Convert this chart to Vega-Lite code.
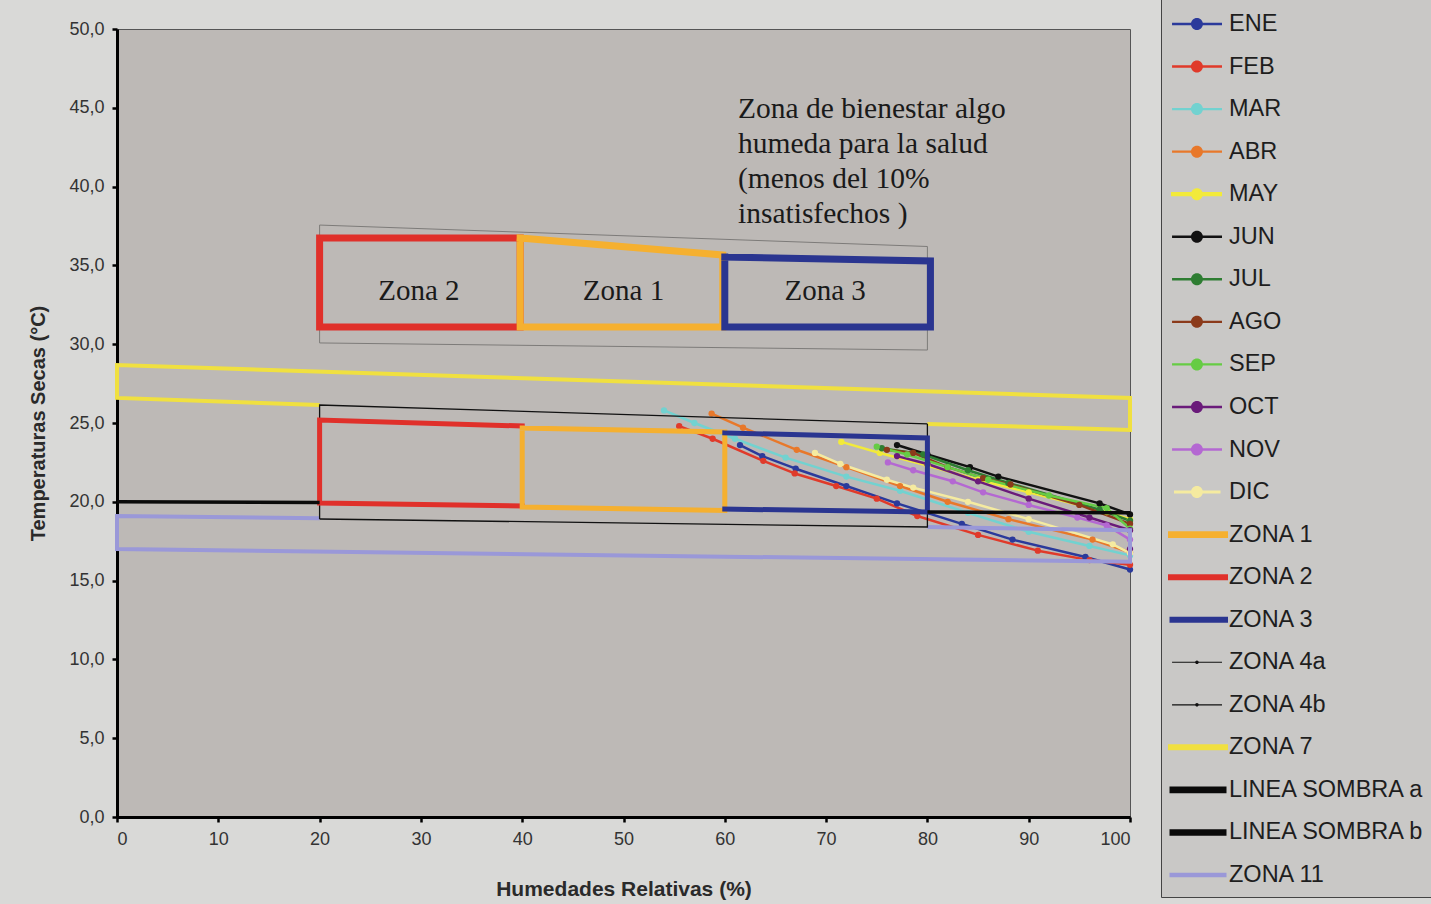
{
  "$schema": "https://vega.github.io/schema/vega-lite/v6.json",
  "width": 1013,
  "height": 788,
  "autosize": {"type": "none"},
  "padding": {"left": 117, "top": 29, "right": 301, "bottom": 87},
  "background": "#d9d9d7",
  "config": {
    "view": {"stroke": "#555555", "strokeWidth": 1, "fill": "#bdb9b6"},
    "axis": {"grid": false, "domainColor": "#000000", "domainWidth": 3, "tickColor": "#000000", "tickWidth": 2.5, "tickSize": 5, "labelColor": "#333333", "labelFont": "Liberation Sans", "labelFontSize": 18, "titleFont": "Liberation Sans", "titleFontSize": 20, "titleFontWeight": "bold", "titleColor": "#2a2a2a"}
  },
  "datasets": {
    "lineas": [
      {"k":"m","s":"ENE","g":"ENE","i":0,"x":61.5,"y":23.6},{"k":"m","s":"ENE","g":"ENE","i":1,"x":63.7,"y":22.9},{"k":"m","s":"ENE","g":"ENE","i":2,"x":67,"y":22.1},{"k":"m","s":"ENE","g":"ENE","i":3,"x":72,"y":21.0},{"k":"m","s":"ENE","g":"ENE","i":4,"x":77,"y":19.9},{"k":"m","s":"ENE","g":"ENE","i":5,"x":83.4,"y":18.6},{"k":"m","s":"ENE","g":"ENE","i":6,"x":88.4,"y":17.6},{"k":"m","s":"ENE","g":"ENE","i":7,"x":95.6,"y":16.5},{"k":"m","s":"ENE","g":"ENE","i":8,"x":100,"y":15.7},
      {"k":"m","s":"FEB","g":"FEB","i":0,"x":55.5,"y":24.8},{"k":"m","s":"FEB","g":"FEB","i":1,"x":58.8,"y":24.0},{"k":"m","s":"FEB","g":"FEB","i":2,"x":63.8,"y":22.6},{"k":"m","s":"FEB","g":"FEB","i":3,"x":66.9,"y":21.8},{"k":"m","s":"FEB","g":"FEB","i":4,"x":71,"y":21.0},{"k":"m","s":"FEB","g":"FEB","i":5,"x":75,"y":20.2},{"k":"m","s":"FEB","g":"FEB","i":6,"x":79,"y":19.1},{"k":"m","s":"FEB","g":"FEB","i":7,"x":85,"y":17.9},{"k":"m","s":"FEB","g":"FEB","i":8,"x":90.9,"y":16.9},{"k":"m","s":"FEB","g":"FEB","i":9,"x":96,"y":16.3},{"k":"m","s":"FEB","g":"FEB","i":10,"x":100,"y":16.0},
      {"k":"m","s":"MAR","g":"MAR","i":0,"x":54,"y":25.8},{"k":"m","s":"MAR","g":"MAR","i":1,"x":57,"y":25.0},{"k":"m","s":"MAR","g":"MAR","i":2,"x":61,"y":24.0},{"k":"m","s":"MAR","g":"MAR","i":3,"x":66,"y":22.8},{"k":"m","s":"MAR","g":"MAR","i":4,"x":72,"y":21.6},{"k":"m","s":"MAR","g":"MAR","i":5,"x":77.3,"y":20.7},{"k":"m","s":"MAR","g":"MAR","i":6,"x":84,"y":19.3},{"k":"m","s":"MAR","g":"MAR","i":7,"x":90,"y":18.1},{"k":"m","s":"MAR","g":"MAR","i":8,"x":96,"y":17.2},{"k":"m","s":"MAR","g":"MAR","i":9,"x":100,"y":16.6},
      {"k":"m","s":"ABR","g":"ABR","i":0,"x":58.7,"y":25.6},{"k":"m","s":"ABR","g":"ABR","i":1,"x":61.8,"y":24.7},{"k":"m","s":"ABR","g":"ABR","i":2,"x":67.1,"y":23.3},{"k":"m","s":"ABR","g":"ABR","i":3,"x":72,"y":22.2},{"k":"m","s":"ABR","g":"ABR","i":4,"x":77.3,"y":21.0},{"k":"m","s":"ABR","g":"ABR","i":5,"x":82,"y":20.0},{"k":"m","s":"ABR","g":"ABR","i":6,"x":88,"y":18.9},{"k":"m","s":"ABR","g":"ABR","i":7,"x":96.3,"y":17.6},{"k":"m","s":"ABR","g":"ABR","i":8,"x":100,"y":16.8},
      {"k":"m","s":"MAY","g":"MAY","i":0,"x":71.5,"y":23.8},{"k":"m","s":"MAY","g":"MAY","i":1,"x":75.3,"y":23.1},{"k":"m","s":"MAY","g":"MAY","i":2,"x":80,"y":22.3},{"k":"m","s":"MAY","g":"MAY","i":3,"x":85,"y":21.4},{"k":"m","s":"MAY","g":"MAY","i":4,"x":90,"y":20.6},{"k":"m","s":"MAY","g":"MAY","i":5,"x":97.7,"y":19.35},{"k":"m","s":"MAY","g":"MAY","i":6,"x":100,"y":18.9},
      {"k":"m","s":"JUN","g":"JUN","i":0,"x":77,"y":23.6},{"k":"m","s":"JUN","g":"JUN","i":1,"x":80,"y":23.0},{"k":"m","s":"JUN","g":"JUN","i":2,"x":84.2,"y":22.2},{"k":"m","s":"JUN","g":"JUN","i":3,"x":87,"y":21.6},{"k":"m","s":"JUN","g":"JUN","i":4,"x":97,"y":19.9},{"k":"m","s":"JUN","g":"JUN","i":5,"x":100,"y":19.2},
      {"k":"m","s":"JUL","g":"JUL","i":0,"x":75.5,"y":23.4},{"k":"m","s":"JUL","g":"JUL","i":1,"x":79.6,"y":23.0},{"k":"m","s":"JUL","g":"JUL","i":2,"x":84,"y":22.0},{"k":"m","s":"JUL","g":"JUL","i":3,"x":88,"y":21.2},{"k":"m","s":"JUL","g":"JUL","i":4,"x":97,"y":19.5},{"k":"m","s":"JUL","g":"JUL","i":5,"x":100,"y":18.8},
      {"k":"m","s":"AGO","g":"AGO","i":0,"x":76,"y":23.3},{"k":"m","s":"AGO","g":"AGO","i":1,"x":78.6,"y":23.1},{"k":"m","s":"AGO","g":"AGO","i":2,"x":82,"y":22.2},{"k":"m","s":"AGO","g":"AGO","i":3,"x":85.5,"y":21.5},{"k":"m","s":"AGO","g":"AGO","i":4,"x":88.2,"y":21.1},{"k":"m","s":"AGO","g":"AGO","i":5,"x":95,"y":19.8},{"k":"m","s":"AGO","g":"AGO","i":6,"x":100,"y":18.6},
      {"k":"m","s":"SEP","g":"SEP","i":0,"x":75,"y":23.5},{"k":"m","s":"SEP","g":"SEP","i":1,"x":78,"y":23.0},{"k":"m","s":"SEP","g":"SEP","i":2,"x":82,"y":22.2},{"k":"m","s":"SEP","g":"SEP","i":3,"x":86,"y":21.4},{"k":"m","s":"SEP","g":"SEP","i":4,"x":92,"y":20.4},{"k":"m","s":"SEP","g":"SEP","i":5,"x":97.7,"y":19.6},{"k":"m","s":"SEP","g":"SEP","i":6,"x":100,"y":18.3},
      {"k":"m","s":"OCT","g":"OCT","i":0,"x":77,"y":22.9},{"k":"m","s":"OCT","g":"OCT","i":1,"x":80,"y":22.4},{"k":"m","s":"OCT","g":"OCT","i":2,"x":85,"y":21.3},{"k":"m","s":"OCT","g":"OCT","i":3,"x":90,"y":20.2},{"k":"m","s":"OCT","g":"OCT","i":4,"x":96,"y":19.0},{"k":"m","s":"OCT","g":"OCT","i":5,"x":100,"y":18.2},{"k":"m","s":"OCT","g":"OCT","i":6,"x":100,"y":17.0},
      {"k":"m","s":"NOV","g":"NOV","i":0,"x":76.1,"y":22.5},{"k":"m","s":"NOV","g":"NOV","i":1,"x":78.6,"y":22.0},{"k":"m","s":"NOV","g":"NOV","i":2,"x":82.5,"y":21.3},{"k":"m","s":"NOV","g":"NOV","i":3,"x":85.5,"y":20.6},{"k":"m","s":"NOV","g":"NOV","i":4,"x":90,"y":19.8},{"k":"m","s":"NOV","g":"NOV","i":5,"x":94.8,"y":19.0},{"k":"m","s":"NOV","g":"NOV","i":6,"x":97.7,"y":18.5},{"k":"m","s":"NOV","g":"NOV","i":7,"x":100,"y":17.6},
      {"k":"m","s":"DIC","g":"DIC","i":0,"x":68.9,"y":23.1},{"k":"m","s":"DIC","g":"DIC","i":1,"x":71.4,"y":22.4},{"k":"m","s":"DIC","g":"DIC","i":2,"x":76,"y":21.4},{"k":"m","s":"DIC","g":"DIC","i":3,"x":78.6,"y":20.9},{"k":"m","s":"DIC","g":"DIC","i":4,"x":84,"y":20.0},{"k":"m","s":"DIC","g":"DIC","i":5,"x":90,"y":18.9},{"k":"m","s":"DIC","g":"DIC","i":6,"x":98.3,"y":17.3},{"k":"m","s":"DIC","g":"DIC","i":7,"x":100,"y":16.75},

      {"k":"z","s":"ZONA 11","g":"z11","i":0,"x":20,"y":18.95},{"k":"z","s":"ZONA 11","g":"z11","i":1,"x":0,"y":19.1},{"k":"z","s":"ZONA 11","g":"z11","i":2,"x":0,"y":17.0},{"k":"z","s":"ZONA 11","g":"z11","i":3,"x":100,"y":16.2},{"k":"z","s":"ZONA 11","g":"z11","i":4,"x":100,"y":18.2},{"k":"z","s":"ZONA 11","g":"z11","i":5,"x":80,"y":18.4},
      {"k":"z","s":"ZONA 7","g":"z7","i":0,"x":20,"y":26.14},{"k":"z","s":"ZONA 7","g":"z7","i":1,"x":0,"y":26.59},{"k":"z","s":"ZONA 7","g":"z7","i":2,"x":0,"y":28.68},{"k":"z","s":"ZONA 7","g":"z7","i":3,"x":100,"y":26.59},{"k":"z","s":"ZONA 7","g":"z7","i":4,"x":100,"y":24.56},{"k":"z","s":"ZONA 7","g":"z7","i":5,"x":80,"y":24.94},
      {"k":"z","s":"ZONA 4a","g":"z4a","i":0,"x":20,"y":18.91},{"k":"z","s":"ZONA 4a","g":"z4a","i":1,"x":20,"y":26.14},{"k":"z","s":"ZONA 4a","g":"z4a","i":2,"x":80,"y":24.94},
      {"k":"z","s":"ZONA 4b","g":"z4b","i":0,"x":20,"y":18.91},{"k":"z","s":"ZONA 4b","g":"z4b","i":1,"x":80,"y":18.4},{"k":"z","s":"ZONA 4b","g":"z4b","i":2,"x":80,"y":24.94},
      {"k":"z","s":"ZONA 2","g":"z2","i":0,"x":40,"y":24.81},{"k":"z","s":"ZONA 2","g":"z2","i":1,"x":20,"y":25.19},{"k":"z","s":"ZONA 2","g":"z2","i":2,"x":20,"y":19.92},{"k":"z","s":"ZONA 2","g":"z2","i":3,"x":40,"y":19.73},
      {"k":"z","s":"ZONA 1","g":"z1","i":0,"x":40,"y":24.68},{"k":"z","s":"ZONA 1","g":"z1","i":1,"x":60,"y":24.43},{"k":"z","s":"ZONA 1","g":"z1","i":2,"x":60,"y":19.45},{"k":"z","s":"ZONA 1","g":"z1","i":3,"x":40,"y":19.67},{"k":"z","s":"ZONA 1","g":"z1","i":4,"x":40,"y":24.68},
      {"k":"z","s":"ZONA 3","g":"z3","i":0,"x":60,"y":24.37},{"k":"z","s":"ZONA 3","g":"z3","i":1,"x":80,"y":24.05},{"k":"z","s":"ZONA 3","g":"z3","i":2,"x":80,"y":19.35},{"k":"z","s":"ZONA 3","g":"z3","i":3,"x":60,"y":19.54},
      {"k":"z","s":"LINEA SOMBRA a","g":"sa","i":0,"x":0,"y":20.0},{"k":"z","s":"LINEA SOMBRA a","g":"sa","i":1,"x":20,"y":19.95},
      {"k":"z","s":"LINEA SOMBRA b","g":"sb","i":0,"x":80,"y":19.35},{"k":"z","s":"LINEA SOMBRA b","g":"sb","i":1,"x":100,"y":19.3},

      {"k":"i","s":"ZONA 2","g":"i2","i":0,"x":20,"y":36.74},{"k":"i","s":"ZONA 2","g":"i2","i":1,"x":39.8,"y":36.74},{"k":"i","s":"ZONA 2","g":"i2","i":2,"x":39.8,"y":31.09},{"k":"i","s":"ZONA 2","g":"i2","i":3,"x":20,"y":31.09},{"k":"i","s":"ZONA 2","g":"i2","i":4,"x":20,"y":36.74},
      {"k":"i","s":"ZONA 1","g":"i1","i":0,"x":39.8,"y":36.74},{"k":"i","s":"ZONA 1","g":"i1","i":1,"x":59.8,"y":35.66},{"k":"i","s":"ZONA 1","g":"i1","i":2,"x":59.8,"y":31.09},{"k":"i","s":"ZONA 1","g":"i1","i":3,"x":39.8,"y":31.09},{"k":"i","s":"ZONA 1","g":"i1","i":4,"x":39.8,"y":36.74},
      {"k":"i","s":"ZONA 3","g":"i3","i":0,"x":60,"y":35.53},{"k":"i","s":"ZONA 3","g":"i3","i":1,"x":80.3,"y":35.28},{"k":"i","s":"ZONA 3","g":"i3","i":2,"x":80.3,"y":31.09},{"k":"i","s":"ZONA 3","g":"i3","i":3,"x":60,"y":31.09},{"k":"i","s":"ZONA 3","g":"i3","i":4,"x":60,"y":35.53}
    ],
    "marco": [
      {"i":0,"x":20,"y":37.56},{"i":1,"x":80,"y":36.2},{"i":2,"x":80,"y":29.63},{"i":3,"x":20,"y":30.08},{"i":4,"x":20,"y":37.56}
    ],
    "etiquetas": [
      {"t":"Zona 2","x":29.8,"y":33.4},{"t":"Zona 1","x":50.0,"y":33.4},{"t":"Zona 3","x":69.9,"y":33.4}
    ],
    "nota": [
      {"t":"Zona de bienestar algo\nhumeda para la salud\n(menos del 10%\ninsatisfechos )","x":61.3,"y":44.35}
    ]
  },
  "layer": [
    {
      "data": {"name": "lineas"},
      "transform": [{"filter": "datum.i < 0"}],
      "mark": {"type": "point", "filled": true, "opacity": 1},
      "encoding": {
        "x": {"field": "x", "type": "quantitative", "scale": {"domain": [0, 100], "nice": false}, "axis": {"values": [0,10,20,30,40,50,60,70,80,90,100], "title": "Humedades Relativas (%)", "titlePadding": 30, "titleFontSize": 21, "labelPadding": 8}},
        "y": {"field": "y", "type": "quantitative", "scale": {"domain": [0, 50], "nice": false}, "axis": {"values": [0,5,10,15,20,25,30,35,40,45,50], "title": "Temperaturas Secas (°C)", "titlePadding": 20, "labelPadding": 8, "labelExpr": "replace(format(datum.value, '.1f'), '.', ',')"}},
        "color": {
          "field": "s", "type": "nominal",
          "scale": {
            "domain": ["ENE","FEB","MAR","ABR","MAY","JUN","JUL","AGO","SEP","OCT","NOV","DIC","ZONA 1","ZONA 2","ZONA 3","ZONA 4a","ZONA 4b","ZONA 7","LINEA SOMBRA a","LINEA SOMBRA b","ZONA 11"],
            "range": ["#2b3a9b","#e03a2a","#72d2d0","#e8782a","#f2ea3a","#111111","#2e7d32","#8b3a1a","#66cc44","#6a1b7a","#b468d2","#f5eba0","#f5b030","#e0302a","#2a3590","#111111","#111111","#f0e040","#0a0a0a","#0a0a0a","#9a98d8"]
          },
          "legend": {"orient": "none", "legendX": 1044, "legendY": -30, "title": null, "symbolSize": 900, "labelFont": "Liberation Sans", "labelFontSize": 23.5, "labelColor": "#1e1e1e", "labelLimit": 400, "labelOffset": 28, "rowPadding": 15.55, "padding": 10, "strokeColor": "#444444", "fillColor": "#c9c8c6", "symbolStrokeWidth": 0, "symbolOpacity": 1}
        },
        "shape": {
          "field": "s", "type": "nominal",
          "scale": {
            "domain": ["ENE","FEB","MAR","ABR","MAY","JUN","JUL","AGO","SEP","OCT","NOV","DIC","ZONA 1","ZONA 2","ZONA 3","ZONA 4a","ZONA 4b","ZONA 7","LINEA SOMBRA a","LINEA SOMBRA b","ZONA 11"],
            "range": [
              "M-0.93,-0.08H2.4V0.08H-0.93ZM1.13,0A0.4,0.4 0 1,1 0.33,0A0.4,0.4 0 1,1 1.13,0Z",
              "M-0.93,-0.08H2.4V0.08H-0.93ZM1.13,0A0.4,0.4 0 1,1 0.33,0A0.4,0.4 0 1,1 1.13,0Z",
              "M-0.93,-0.08H2.4V0.08H-0.93ZM1.13,0A0.4,0.4 0 1,1 0.33,0A0.4,0.4 0 1,1 1.13,0Z",
              "M-0.93,-0.08H2.4V0.08H-0.93ZM1.13,0A0.4,0.4 0 1,1 0.33,0A0.4,0.4 0 1,1 1.13,0Z",
              "M-1.0,-0.14H2.4V0.14H-1.0ZM1.13,0A0.4,0.4 0 1,1 0.33,0A0.4,0.4 0 1,1 1.13,0Z",
              "M-0.93,-0.08H2.4V0.08H-0.93ZM1.13,0A0.4,0.4 0 1,1 0.33,0A0.4,0.4 0 1,1 1.13,0Z",
              "M-0.93,-0.08H2.4V0.08H-0.93ZM1.13,0A0.4,0.4 0 1,1 0.33,0A0.4,0.4 0 1,1 1.13,0Z",
              "M-0.93,-0.08H2.4V0.08H-0.93ZM1.13,0A0.4,0.4 0 1,1 0.33,0A0.4,0.4 0 1,1 1.13,0Z",
              "M-0.93,-0.08H2.4V0.08H-0.93ZM1.13,0A0.4,0.4 0 1,1 0.33,0A0.4,0.4 0 1,1 1.13,0Z",
              "M-0.93,-0.08H2.4V0.08H-0.93ZM1.13,0A0.4,0.4 0 1,1 0.33,0A0.4,0.4 0 1,1 1.13,0Z",
              "M-0.93,-0.08H2.4V0.08H-0.93ZM1.13,0A0.4,0.4 0 1,1 0.33,0A0.4,0.4 0 1,1 1.13,0Z",
              "M-0.8,-0.1H2.3V0.1H-0.8ZM1.13,0A0.4,0.4 0 1,1 0.33,0A0.4,0.4 0 1,1 1.13,0Z",
              "M-1.2,-0.22H2.8V0.22H-1.2Z",
              "M-1.2,-0.2H2.8V0.2H-1.2Z",
              "M-1.1,-0.2H2.8V0.2H-1.1Z",
              "M-0.93,-0.04H2.4V0.04H-0.93ZM0.85,0A0.12,0.12 0 1,1 0.61,0A0.12,0.12 0 1,1 0.85,0Z",
              "M-0.93,-0.04H2.4V0.04H-0.93ZM0.85,0A0.12,0.12 0 1,1 0.61,0A0.12,0.12 0 1,1 0.85,0Z",
              "M-1.2,-0.2H2.8V0.2H-1.2Z",
              "M-1.1,-0.22H2.7V0.22H-1.1Z",
              "M-1.1,-0.22H2.7V0.22H-1.1Z",
              "M-1.1,-0.15H2.7V0.15H-1.1Z"
            ]
          },
          "legend": {"orient": "none", "legendX": 1044, "legendY": -30, "title": null, "symbolSize": 900, "labelFont": "Liberation Sans", "labelFontSize": 23.5, "labelColor": "#1e1e1e", "labelLimit": 400, "labelOffset": 28, "rowPadding": 15.55, "padding": 10, "strokeColor": "#444444", "fillColor": "#c9c8c6", "symbolStrokeWidth": 0, "symbolOpacity": 1}
        }
      }
    },
    {
      "data": {"name": "lineas"},
      "transform": [{"filter": "datum.k === 'm'"}],
      "mark": {"type": "line", "strokeCap": "round", "strokeJoin": "round", "strokeWidth": 2.5},
      "encoding": {
        "x": {"field": "x", "type": "quantitative"},
        "y": {"field": "y", "type": "quantitative"},
        "color": {"field": "s", "type": "nominal", "legend": null},
        "detail": {"field": "g"},
        "order": {"field": "i", "type": "quantitative"}
      }
    },
    {
      "data": {"name": "lineas"},
      "transform": [{"filter": "datum.k === 'm'"}],
      "mark": {"type": "point", "filled": true, "opacity": 1, "size": 40},
      "encoding": {
        "x": {"field": "x", "type": "quantitative"},
        "y": {"field": "y", "type": "quantitative"},
        "color": {"field": "s", "type": "nominal", "legend": null}
      }
    },
    {
      "data": {"name": "lineas"},
      "transform": [{"filter": {"field": "s", "oneOf": ["ZONA 11", "ZONA 7"]}}],
      "mark": {"type": "line", "strokeCap": "butt", "strokeJoin": "miter", "strokeWidth": 4},
      "encoding": {
        "x": {"field": "x", "type": "quantitative"},
        "y": {"field": "y", "type": "quantitative"},
        "color": {"field": "s", "type": "nominal", "legend": null},
        "detail": {"field": "g"},
        "order": {"field": "i", "type": "quantitative"}
      }
    },
    {
      "data": {"name": "lineas"},
      "transform": [{"filter": {"field": "s", "oneOf": ["ZONA 4a", "ZONA 4b"]}}],
      "mark": {"type": "line", "strokeCap": "butt", "strokeJoin": "miter", "strokeWidth": 1.3},
      "encoding": {
        "x": {"field": "x", "type": "quantitative"},
        "y": {"field": "y", "type": "quantitative"},
        "color": {"field": "s", "type": "nominal", "legend": null},
        "detail": {"field": "g"},
        "order": {"field": "i", "type": "quantitative"}
      }
    },
    {
      "data": {"name": "lineas"},
      "transform": [{"filter": "datum.k === 'z' && (datum.s === 'ZONA 1' || datum.s === 'ZONA 2' || datum.s === 'ZONA 3')"}],
      "mark": {"type": "line", "strokeCap": "square", "strokeJoin": "miter", "strokeWidth": 5},
      "encoding": {
        "x": {"field": "x", "type": "quantitative"},
        "y": {"field": "y", "type": "quantitative"},
        "color": {"field": "s", "type": "nominal", "legend": null},
        "detail": {"field": "g"},
        "order": {"field": "i", "type": "quantitative"}
      }
    },
    {
      "data": {"name": "lineas"},
      "transform": [{"filter": {"field": "s", "oneOf": ["LINEA SOMBRA a", "LINEA SOMBRA b"]}}],
      "mark": {"type": "line", "strokeCap": "butt", "strokeWidth": 3.5},
      "encoding": {
        "x": {"field": "x", "type": "quantitative"},
        "y": {"field": "y", "type": "quantitative"},
        "color": {"field": "s", "type": "nominal", "legend": null},
        "detail": {"field": "g"},
        "order": {"field": "i", "type": "quantitative"}
      }
    },
    {
      "data": {"name": "marco"},
      "mark": {"type": "line", "color": "#7d7b79", "strokeWidth": 1},
      "encoding": {
        "x": {"field": "x", "type": "quantitative"},
        "y": {"field": "y", "type": "quantitative"},
        "order": {"field": "i", "type": "quantitative"}
      }
    },
    {
      "data": {"name": "lineas"},
      "transform": [{"filter": "datum.k === 'i'"}],
      "mark": {"type": "line", "strokeCap": "square", "strokeJoin": "miter", "strokeWidth": 7},
      "encoding": {
        "x": {"field": "x", "type": "quantitative"},
        "y": {"field": "y", "type": "quantitative"},
        "color": {"field": "s", "type": "nominal", "legend": null},
        "detail": {"field": "g"},
        "order": {"field": "i", "type": "quantitative"}
      }
    },
    {
      "data": {"name": "etiquetas"},
      "mark": {"type": "text", "font": "Liberation Serif", "fontSize": 29, "color": "#1a1a1a", "align": "center", "baseline": "middle"},
      "encoding": {
        "x": {"field": "x", "type": "quantitative"},
        "y": {"field": "y", "type": "quantitative"},
        "text": {"field": "t"}
      }
    },
    {
      "data": {"name": "nota"},
      "mark": {"type": "text", "font": "Liberation Serif", "fontSize": 29.5, "color": "#1a1a1a", "align": "left", "baseline": "alphabetic", "lineBreak": "\n", "lineHeight": 35},
      "encoding": {
        "x": {"field": "x", "type": "quantitative"},
        "y": {"field": "y", "type": "quantitative"},
        "text": {"field": "t"}
      }
    }
  ],
  "encoding": {}
}
